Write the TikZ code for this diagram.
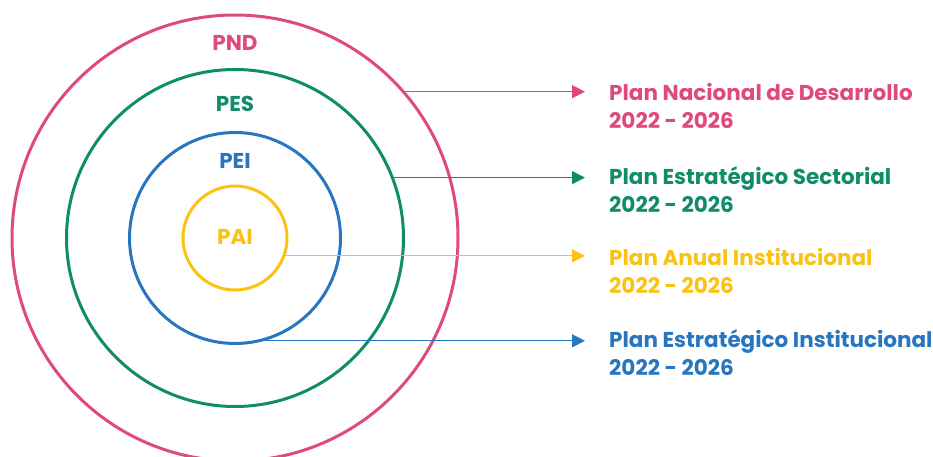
\documentclass[tikz,border=0pt]{standalone}
\usepackage{fontspec}
\setmainfont{Poppins}
\usetikzlibrary{arrows.meta}
\definecolor{cpink}{RGB}{224,74,122}
\definecolor{cgreen}{RGB}{16,140,106}
\definecolor{cyellow}{RGB}{252,194,18}
\definecolor{cblue}{RGB}{40,118,192}
\tikzset{
  ring/.style={circle,draw,line width=3pt,inner sep=0pt,outer sep=0pt},
  lab/.style={font=\bfseries\fontsize{21.5}{28}\selectfont},
  desc/.style={font=\bfseries\fontsize{21.5}{28}\selectfont,align=left,anchor=base west,inner sep=0pt},
  conn/.style={line width=1.4pt,-{Triangle[length=13pt,width=13pt]}}
}
\begin{document}
\begin{tikzpicture}[x=1pt,y=-1pt]
\useasboundingbox (0,0) rectangle (933,457);
\node[ring,cpink,minimum size=446pt] (pnd) at (235,238) {};
\node[ring,cgreen,minimum size=337pt] (pes) at (235,238) {};
\node[ring,cblue,minimum size=211pt] (pei) at (235,238) {};
\node[ring,cyellow,minimum size=104pt] (pai) at (235,238) {};
\node[lab,text=cpink] (lpnd) at (235,43) {PND};
\node[lab,text=cgreen] (lpes) at (235,104) {PES};
\node[lab,text=cblue] (lpei) at (235,161) {PEI};
\node[lab,text=cyellow] (lpai) at (235,237) {PAI};
\coordinate (tip) at (585,0);
\draw[conn,cpink] (pnd.41.9) -- (pnd.41.9 -| tip);
\draw[conn,cgreen] (pes.21.6) -- (pes.21.6 -| tip);
\draw[conn,cyellow] (pai.-20.3) -- (pai.-20.3 -| tip);
\draw[conn,cblue] (pei.-77.5) -- (pei.-77.5 -| tip);
\node[desc,text=cpink] (dpnd) at (609,129) {Plan Nacional de Desarrollo\\2022 - 2026};
\node[desc,text=cgreen] (dpes) at (609,212) {Plan Estratégico Sectorial\\2022 - 2026};
\node[desc,text=cyellow] (dpai) at (609,293) {Plan Anual Institucional\\2022 - 2026};
\node[desc,text=cblue] (dpei) at (609,375) {Plan Estratégico Institucional\\2022 - 2026};
\end{tikzpicture}
\end{document}
